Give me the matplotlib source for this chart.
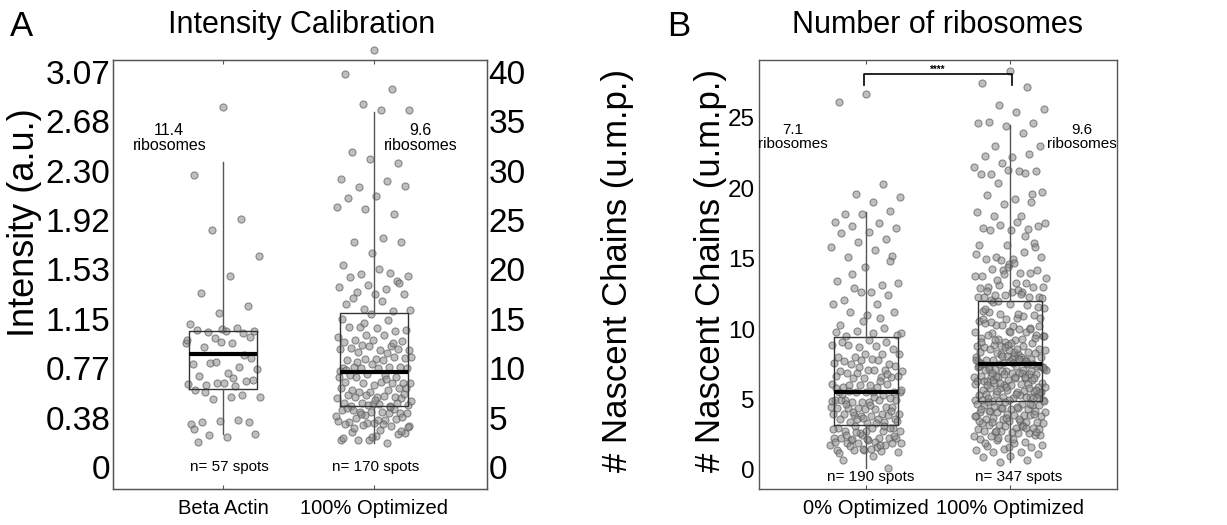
import numpy as np
import matplotlib
matplotlib.use('Agg')
import matplotlib.pyplot as plt

plt.rcParams['font.family'] = ['Liberation Sans', 'DejaVu Sans']

# ---------------- panel A : intensity calibration (values in u.m.p.; 40 u.m.p. = 3.07 a.u.)
a_categories = ['Beta Actin', '100% Optimized']
a_counts = [57, 170]
a_ribosomes = ['11.4', '9.6']
a_intensity_labels = ['0', '0.38', '0.77', '1.15', '1.53', '1.92', '2.30', '2.68', '3.07']
a_ump_ticks = [0, 5, 10, 15, 20, 25, 30, 35, 40]

beta_actin = [36.4, 29.6, 25.1, 24.0, 21.4, 19.3, 17.6, 16.3, 15.6, 14.5,
              14.1, 13.7, 13.8, 13.8, 13.9, 13.6, 13.1, 12.6, 12.6, 12.1,
              13.2, 12.7, 10.4, 10.1, 10.5, 9.9, 9.5, 9.2, 8.7, 8.5,
              8.4, 8.2, 8.3, 8.8, 8.5, 7.8, 7.3, 6.9, 7.1, 7.1,
              4.6, 4.6, 4.7, 4.3, 4.8, 3.2, 3.3, 3.0, 2.5, 11.3,
              10.6, 12.9, 9.0, 7.6, 11.0, 14.0, 3.8]

optimized_a = [42.2, 39.8, 38.3, 36.7, 36.1, 36.1, 31.9, 30.8, 31.2, 29.2,
               29.0, 28.3, 28.4, 27.4, 27.2, 25.6, 26.1, 26.3, 23.2, 22.8,
               22.8, 21.7, 20.4, 19.6, 19.5, 19.3, 20.0, 19.2, 18.8, 18.4,
               18.2, 18.0, 17.7, 17.5, 17.5, 16.5, 15.8, 16.0, 15.9, 16.8,
               17.1, 18.6,
               15.5, 15.0, 14.9, 14.2, 13.9, 14.1, 14.2, 13.8, 13.4, 13.2,
               13.4, 12.9, 12.8, 12.9, 12.7, 12.2, 12.3, 11.8, 11.8, 12.0,
               11.9, 12.2, 11.9, 11.5, 11.6, 11.0, 10.9, 10.8, 11.1, 10.9,
               11.1, 10.8, 10.1, 10.1, 10.4, 10.0, 10.1, 10.0, 10.0, 10.0,
               9.3, 9.1, 9.4, 9.1, 9.3, 9.1, 8.5, 8.3, 8.6, 8.5,
               8.5, 8.5, 8.6, 7.8, 8.0, 7.6, 8.0, 7.8, 7.6, 8.0,
               7.1, 7.3, 7.1, 7.3, 7.0, 7.2, 7.1, 7.0, 6.4, 6.5,
               6.2, 6.5, 6.3, 6.4, 6.2, 6.5, 6.3, 9.7, 8.9, 10.6,
               7.4, 6.8, 9.8, 12.5, 14.6, 6.7,
               5.6, 5.8, 5.5, 5.6, 5.8, 5.5, 5.6, 5.5, 4.8, 4.6,
               4.9, 4.5, 4.7, 4.8, 5.0, 5.1, 4.5, 4.3, 4.1, 4.2,
               4.1, 3.7, 3.5, 3.3, 2.7, 2.7, 2.4, 2.7, 3.4, 3.1,
               6.0, 5.9, 5.3, 5.2, 4.4, 3.9, 3.6, 3.0, 2.9, 6.1,
               5.4, 4.0]

# box statistics: whislo, q1, median, q3, whishi
a_box = [[3.3, 7.9, 11.4, 13.8, 30.9],
         [2.4, 6.2, 9.6, 15.6, 35.9]]

# ---------------- panel B : number of ribosomes
b_categories = ['0% Optimized', '100% Optimized']
b_counts = [190, 347]
b_ribosomes = ['7.1', '9.6']
b_ticks = [0, 5, 10, 15, 20, 25]

zero_opt = [26.7, 26.1, 20.3, 19.6, 19.4, 19.0, 18.2, 18.4, 18.2, 17.6,
            17.5, 17.3, 17.2, 16.9, 16.8, 16.4, 16.2, 15.8, 15.6, 15.1,
            15.2, 14.4, 13.4, 13.1, 12.9, 13.3, 12.6, 12.1, 12.4, 12.6,
            11.8, 11.8, 11.2, 11.2, 11.0, 10.3, 10.1, 9.9, 9.7, 9.7,
            9.5, 14.8, 10.6, 9.8, 10.8, 13.9, 9.6,
            9.2, 9.1, 9.1, 8.7, 8.9, 8.8, 8.9, 8.6, 8.2, 8.0,
            8.2, 8.0, 8.2, 7.9, 7.7, 7.5, 7.8, 7.6, 7.8, 7.5,
            7.4, 7.1, 7.0, 7.1, 6.9, 7.0, 7.1, 6.9, 6.6, 6.5,
            6.7, 6.6, 6.5, 6.7, 6.0, 5.9, 6.1, 6.0, 6.1, 5.9,
            6.0, 5.5, 5.5, 5.5, 5.3, 5.5, 5.5, 5.5, 5.0, 5.1,
            4.8, 5.0, 5.0, 4.8, 5.0, 4.8, 5.0, 4.5, 4.4, 4.5,
            4.3, 4.4, 4.5, 4.3, 4.4, 4.0, 3.9, 4.0, 3.8, 4.0,
            3.9, 3.8, 4.0, 3.6, 3.4, 3.6, 3.3, 3.6, 3.4, 3.6,
            5.7, 5.2, 4.7, 4.2, 3.7, 5.8, 6.3, 4.1, 3.5, 4.6,
            5.4, 6.8, 7.3, 4.9, 3.3, 5.6,
            3.0, 2.8, 3.0, 2.8, 3.1, 2.8, 3.0, 2.8, 2.3, 2.5,
            2.3, 2.3, 2.1, 2.3, 2.1, 2.3, 1.8, 1.9, 1.8, 2.0,
            1.9, 1.9, 1.4, 1.4, 1.35, 1.4, 1.3, 1.5, 0.7, 0.15,
            2.6, 2.9, 1.6, 1.7, 2.4, 2.2, 1.2, 3.1, 2.7, 1.9,
            1.0, 2.5, 3.0, 1.5, 2.0, 1.8, 2.2]

hundred_opt = [28.3, 27.5, 27.2, 25.9, 25.6, 25.4, 24.7, 24.6, 24.4, 24.6,
               23.9, 23.0, 23.0, 22.2, 22.3, 22.4, 21.8, 21.5, 21.2, 21.0,
               21.2, 21.3, 21.0, 21.1, 20.4, 19.7, 19.2, 19.5, 19.6, 18.9,
               18.3, 18.0, 18.0, 17.3, 17.0, 17.2, 17.1, 17.4, 17.5, 17.6,
               17.0, 16.1, 16.0, 16.0, 15.5, 15.1, 15.1, 15.0, 15.0, 14.0,
               14.2, 13.8, 14.0, 14.3, 14.2, 14.6, 13.8, 13.3, 13.1, 13.0,
               13.3, 13.0, 13.0, 12.4, 12.3, 12.6, 12.4, 12.3, 12.6, 12.3,
               12.3, 14.9, 13.6, 12.8, 12.1, 15.8, 14.4, 12.9, 16.6, 13.5,
               12.2, 14.7, 12.7, 19.0, 13.9, 15.3, 12.5,
               11.9, 11.6, 11.8, 11.3, 11.7, 11.1, 11.5, 10.8, 11.2, 11.0,
               10.7, 10.6, 10.9, 10.3, 10.8, 10.2, 10.4, 10.1, 10.3, 9.8,
               10.0, 9.7, 9.6, 9.9, 9.4, 9.8, 9.3, 9.5, 9.2, 9.6,
               9.0, 9.1, 8.8, 9.3, 8.9, 8.6, 9.0, 8.7, 8.4, 8.8,
               8.5, 8.2, 8.6, 8.3, 8.1, 8.4, 7.9, 8.3, 8.0, 8.1,
               7.8, 7.9, 7.6, 8.0, 7.7, 7.8, 7.4, 7.7, 7.5, 7.6,
               7.5, 7.2, 7.4, 7.3, 7.5, 7.0, 7.3, 7.1, 7.2, 7.4,
               6.9, 7.1, 6.8, 7.0, 6.6, 6.9, 6.7, 6.8, 6.4, 6.7,
               6.5, 6.6, 6.2, 6.5, 6.3, 6.4, 6.0, 6.3, 6.1, 6.2,
               5.9, 6.0, 5.7, 6.1, 5.8, 5.9, 5.5, 5.8, 5.6, 5.7,
               5.3, 5.6, 5.4, 5.5, 5.1, 5.4, 5.2, 5.2, 5.0, 5.3,
               4.9, 5.1, 5.0, 5.0, 5.2, 4.9, 5.0, 5.4, 5.1, 5.1,
               8.7, 7.7, 6.9, 9.2, 10.2, 7.9, 6.3, 5.8, 8.2, 7.1,
               11.1, 10.5, 9.4, 8.9, 7.6, 6.6, 5.6, 7.3, 8.4, 6.0,
               7.0, 6.8, 7.8, 8.0, 6.4, 5.4, 9.8, 10.7, 7.5, 6.2,
               9.5, 8.6, 7.2, 6.5, 5.9, 7.4, 8.8, 6.7, 5.5, 7.6,
               11.4, 10.0, 8.1, 6.1, 7.9, 6.9, 5.7, 8.5, 9.1, 7.7,
               12.0, 7.3, 6.6,
               4.8, 4.6, 4.8, 4.7, 4.7, 4.5, 4.6, 4.3, 4.6, 4.3,
               4.4, 4.1, 4.4, 4.2, 4.2, 4.0, 4.1, 3.9, 4.1, 3.8,
               3.9, 3.6, 3.9, 3.6, 3.8, 3.5, 3.7, 3.4, 3.5, 3.3,
               3.4, 3.2, 3.3, 3.0, 3.2, 3.0, 3.1, 2.9, 3.1, 2.7,
               2.9, 2.7, 2.8, 2.6, 2.8, 2.4, 2.6, 2.4, 2.5, 2.3,
               2.2, 2.0, 2.1, 1.8, 1.9, 1.7, 1.6, 1.5, 1.4, 1.3,
               1.3, 1.1, 1.0, 0.9, 0.7, 0.6, 4.9, 4.5, 4.2, 4.0,
               3.7, 3.5, 3.1, 2.8, 2.5, 2.2, 1.9, 4.7, 4.4, 3.8,
               3.6, 3.4, 2.7, 1.6, 4.3, 3.0, 2.3]

b_box = [[0.15, 3.2, 5.5, 9.45, 18.3],
         [0.6, 4.9, 7.5, 12.0, 24.5]]

W, H = 1227, 525
fig = plt.figure(figsize=(W / 100, H / 100), dpi=100)
fig.patch.set_facecolor('white')

frame_color = '#555555'


def jitter(n, pos, width=0.5):
    k = np.arange(n)
    return pos + ((k * 0.6180339887 + 0.5) % 1.0 - 0.5) * width


def draw_panel(ax, groups, box):
    for i, vals in enumerate(groups):
        ax.scatter(jitter(len(vals), i + 1), vals, s=26,
                   facecolor=(0.55, 0.55, 0.55, 0.55),
                   edgecolor=(0.35, 0.35, 0.35, 0.65),
                   linewidth=0.8, zorder=2, clip_on=False)
    stats = [dict(whislo=b[0], q1=b[1], med=b[2], q3=b[3], whishi=b[4], fliers=[])
             for b in box]
    ax.bxp(stats, positions=[1, 2], widths=0.45, showcaps=False, showfliers=False,
           boxprops=dict(color='#333333', lw=1.0),
           whiskerprops=dict(color='#555555', lw=1.0),
           medianprops=dict(color='black', lw=3),
           manage_ticks=False, zorder=3)
    for sp in ax.spines.values():
        sp.set_color(frame_color)
        sp.set_linewidth(1.0)
    ax.set_xticks([1, 2])
    ax.tick_params(axis='x', direction='in', length=3, top=True, pad=7,
                   color=frame_color, labelsize=14.5)


# ---------- panel A
axA = fig.add_axes([113 / W, 1 - 489 / H, 374 / W, 429 / H])
draw_panel(axA, [beta_actin, optimized_a], a_box)
axA.set_xlim(0.27, 2.75)
axA.set_ylim(-2.23, 41.2)
axA.set_xticklabels(a_categories)
axA.set_yticks(a_ump_ticks)
axA.set_yticklabels(a_intensity_labels)
axA.tick_params(axis='y', length=0, pad=2, labelsize=24)
axA2 = axA.twinx()
axA2.set_ylim(axA.get_ylim())
axA2.set_yticks(a_ump_ticks)
axA2.set_yticklabels([str(t) for t in a_ump_ticks])
axA2.tick_params(axis='y', length=0, pad=1, labelsize=24)
for sp in axA2.spines.values():
    sp.set_color(frame_color)

for x, txt in zip([0.643, 2.31], a_ribosomes):
    axA.text(x, 33.3, txt + '\nribosomes', ha='center', va='center',
             multialignment='center', fontsize=11.5, linespacing=1.0)
for x, n in zip([1.04, 2.01], a_counts):
    axA.text(x, 0, 'n= %d spots' % n, ha='center', va='center', fontsize=11)

# ---------- panel B
axB = fig.add_axes([759 / W, 1 - 489 / H, 358 / W, 429 / H])
draw_panel(axB, [zero_opt, hundred_opt], b_box)
axB.set_xlim(0.256, 2.744)
axB.set_ylim(-1.35, 29.1)
axB.set_xticklabels(b_categories)
axB.set_yticks(b_ticks)
axB.tick_params(axis='y', length=0, pad=3, labelsize=17.5)

for x, txt in zip([0.49, 2.50], b_ribosomes):
    axB.text(x, 23.6, txt + '\nribosomes', ha='center', va='center',
             multialignment='center', fontsize=11, linespacing=1.0)
for x, n in zip([1.034, 2.063], b_counts):
    axB.text(x, -0.5, 'n= %d spots' % n, ha='center', va='center', fontsize=11)

axB.plot([0.986, 0.986, 2.014, 2.014], [27.3, 28.1, 28.1, 27.3],
         color='black', lw=1.2, zorder=4)
axB.text(1.5, 28.4, '****', ha='center', va='center', fontsize=7,
         fontweight='bold')

# ---------- titles and labels
fig.text(302 / W, 1 - 25 / H, 'Intensity Calibration', ha='center', va='center', fontsize=22)
fig.text(937 / W, 1 - 25 / H, 'Number of ribosomes', ha='center', va='center', fontsize=22)
fig.text(22 / W, 1 - 27 / H, 'A', ha='center', va='center', fontsize=25)
fig.text(679 / W, 1 - 27 / H, 'B', ha='center', va='center', fontsize=25)

fig.text(25 / W, 1 - 223 / H, 'Intensity (a.u.)', rotation=90,
         ha='center', va='center', fontsize=26)
fig.text(617 / W, 1 - 270 / H, '# Nascent Chains (u.m.p.)', rotation=90,
         ha='center', va='center', fontsize=25)
fig.text(711 / W, 1 - 270 / H, '# Nascent Chains (u.m.p.)', rotation=90,
         ha='center', va='center', fontsize=25)

fig.savefig('out.png', dpi=100)
